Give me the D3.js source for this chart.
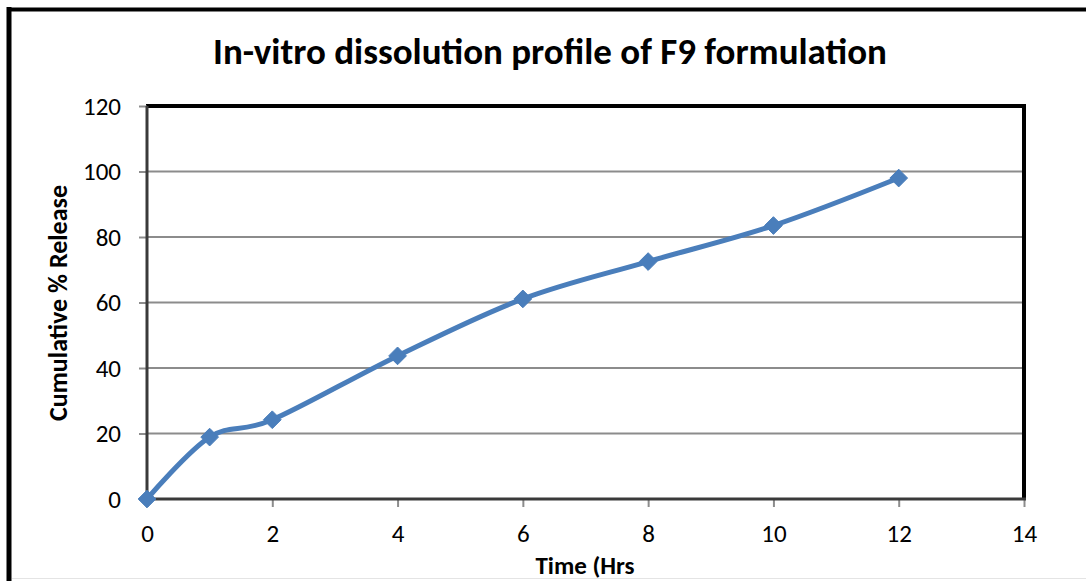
<!DOCTYPE html>
<html><head><meta charset="utf-8">
<script src="https://cdn.jsdelivr.net/npm/d3@7"></script>
<style>
html,body{margin:0;padding:0;background:#fff;}
svg{display:block;font-family:Carlito,Calibri,"Open Sans","Liberation Sans",sans-serif;}
</style></head>
<body>
<svg id="c" width="1086" height="581"></svg>
<script>
const timeHrs = [0, 1, 2, 4, 6, 8, 10, 12];
const releasePct = [0, 18.9, 24.2, 43.7, 61.1, 72.5, 83.5, 98.0];
const xTicks = [0, 2, 4, 6, 8, 10, 12, 14];
const yTicks = [0, 20, 40, 60, 80, 100, 120];
const titleText = "In-vitro dissolution profile of F9 formulation";
const xTitle = "Time (Hrs";
const yTitle = "Cumulative % Release";

const svg = d3.select("#c");
const W = 1086, H = 581;
const pL = 147, pR = 1024, pT = 106, pB = 499;

svg.append("rect").attr("width", W).attr("height", H).attr("fill", "#fff");
// outer frame (left & top thick, bottom faint)
svg.append("line").attr("x1", 9).attr("x2", 9).attr("y1", 7).attr("y2", H).attr("stroke", "#000").attr("stroke-width", 5);
svg.append("line").attr("x1", 7).attr("x2", W).attr("y1", 9.5).attr("y2", 9.5).attr("stroke", "#000").attr("stroke-width", 4);
svg.append("line").attr("x1", 12).attr("x2", W).attr("y1", 578.5).attr("y2", 578.5).attr("stroke", "#e4e4e4").attr("stroke-width", 1);

const x = d3.scaleLinear().domain([0, 14]).range([pL, pR]);
const y = d3.scaleLinear().domain([0, 120]).range([pB, pT]);

// title
svg.append("text").attr("x", 550).attr("y", 64).attr("text-anchor", "middle")
  .attr("font-size", 37).attr("font-weight", "bold").attr("fill", "#000").text(titleText);

// gridlines
svg.append("g").selectAll("line").data(yTicks.filter(d => d > 0 && d < 120)).join("line")
  .attr("x1", pL).attr("x2", pR).attr("y1", d => y(d)).attr("y2", d => y(d))
  .attr("stroke", "#8c8c8c").attr("stroke-width", 2);

// plot border top/right
svg.append("line").attr("x1", pL - 1).attr("x2", pR + 2).attr("y1", pT).attr("y2", pT).attr("stroke", "#000").attr("stroke-width", 4);
svg.append("line").attr("x1", pR).attr("x2", pR).attr("y1", pT - 2).attr("y2", pB).attr("stroke", "#000").attr("stroke-width", 4);

// axes
const xAxis = d3.axisBottom(x).tickValues(xTicks).tickSize(8).tickPadding(17).tickFormat(d3.format("d"));
const gx = svg.append("g").attr("transform", `translate(0,${pB})`).call(xAxis);
gx.select(".domain").remove();
gx.selectAll(".tick line").attr("stroke", "#8c8c8c").attr("stroke-width", 2);
gx.selectAll(".tick text").attr("font-size", 25).attr("fill", "#000").attr("font-family", "Carlito,Calibri,'Open Sans',sans-serif");

const yAxis = d3.axisLeft(y).tickValues(yTicks).tickSize(8).tickPadding(18).tickFormat(d3.format("d"));
const gy = svg.append("g").attr("transform", `translate(${pL},0)`).call(yAxis);
gy.select(".domain").remove();
gy.selectAll(".tick line").attr("stroke", "#8c8c8c").attr("stroke-width", 2);
gy.selectAll(".tick text").attr("font-size", 25).attr("fill", "#000").attr("font-family", "Carlito,Calibri,'Open Sans',sans-serif");

svg.append("line").attr("x1", pL).attr("x2", pL).attr("y1", pT).attr("y2", pB + 1).attr("stroke", "#3a3a3a").attr("stroke-width", 3);
svg.append("line").attr("x1", pL - 1).attr("x2", pR + 2).attr("y1", pB).attr("y2", pB).attr("stroke", "#3a3a3a").attr("stroke-width", 3);

// axis titles
svg.append("text").attr("x", 585).attr("y", 574).attr("text-anchor", "middle")
  .attr("font-size", 25).attr("font-weight", "bold").text(xTitle);
svg.append("text").attr("transform", `translate(67,${303}) rotate(-90)`).attr("text-anchor", "middle")
  .attr("font-size", 26).attr("font-weight", "bold").text(yTitle);

// series
const pts = timeHrs.map((t, i) => [t, releasePct[i]]);
const line = d3.line().x(d => x(d[0])).y(d => y(d[1])).curve(d3.curveCatmullRom.alpha(0));
svg.append("path").datum(pts).attr("d", line).attr("fill", "none")
  .attr("stroke", "#4a7ebb").attr("stroke-width", 5).attr("stroke-linejoin", "round");

const sym = d3.symbol().type(d3.symbolDiamond2).size(200);
svg.append("g").selectAll("path").data(pts).join("path")
  .attr("transform", d => `translate(${x(d[0])},${y(d[1])})`)
  .attr("d", sym).attr("fill", "#4a7ebb").attr("stroke", "#4a7ebb").attr("stroke-width", 1);
</script>
</body></html>
